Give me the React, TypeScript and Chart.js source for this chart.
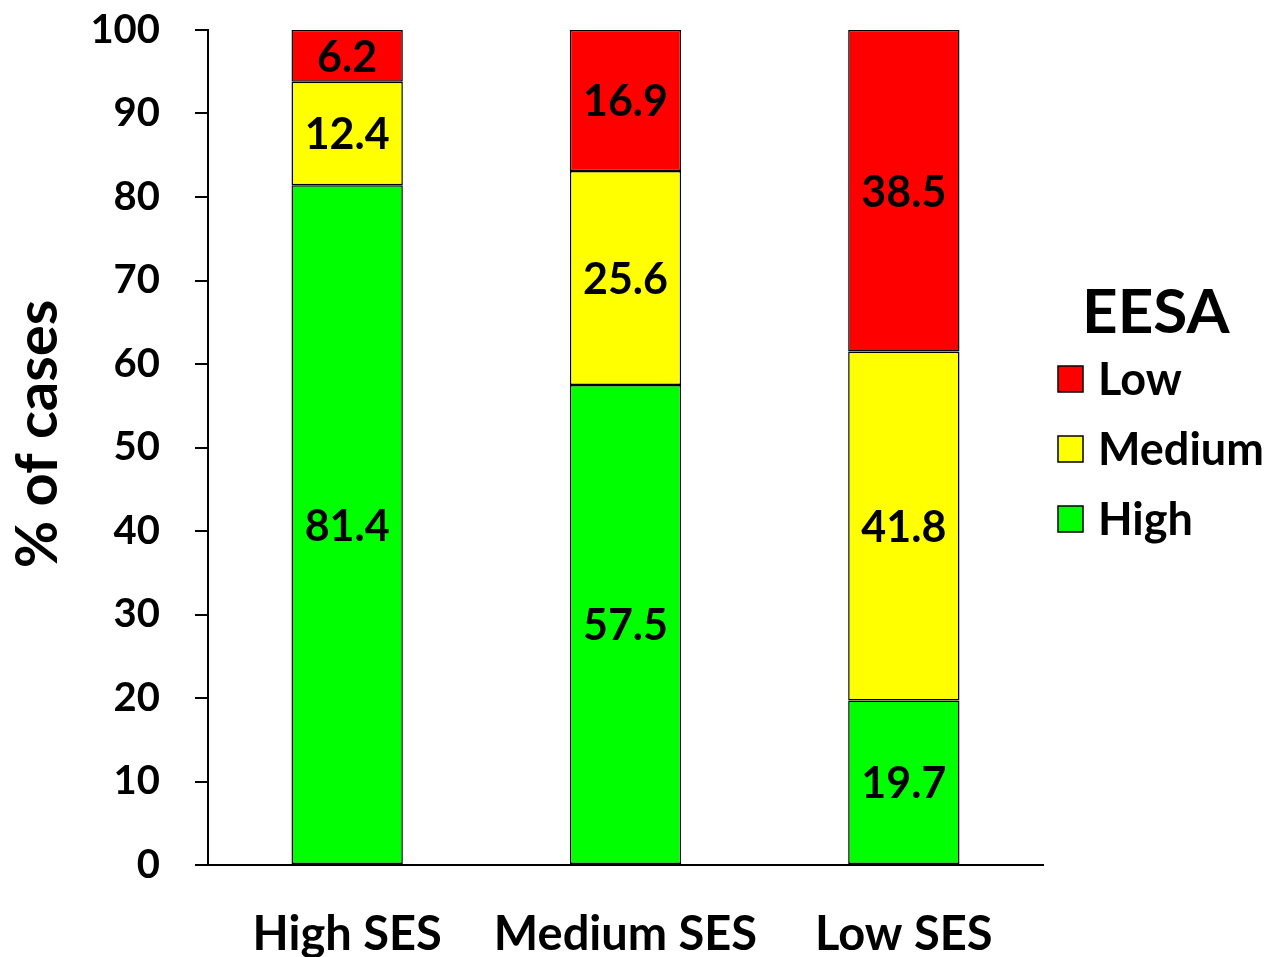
import React, { useEffect, useRef } from "react";
import { Chart, registerables } from "chart.js";

Chart.register(...registerables);

const categories = ["High SES", "Medium SES", "Low SES"];
const highEesa = [81.4, 57.5, 19.7];
const mediumEesa = [12.4, 25.6, 41.8];
const lowEesa = [6.2, 16.9, 38.5];
const yTicks = [0, 10, 20, 30, 40, 50, 60, 70, 80, 90, 100];

const FONT = "Lato, 'Open Sans', sans-serif";
const RED = "#ff0000";
const YELLOW = "#ffff00";
const GREEN = "#00ff00";

// Legend entries, listed top to bottom (reverse of stacking order)
const legendItems = [
  { label: "Low", color: RED },
  { label: "Medium", color: YELLOW },
  { label: "High", color: GREEN },
];

const barLabelsPlugin = {
  id: "barLabels",
  afterDatasetsDraw(chart: any) {
    const ctx = chart.ctx;
    ctx.save();
    ctx.fillStyle = "#000";
    ctx.font = `bold 43px ${FONT}`;
    ctx.textAlign = "center";
    ctx.textBaseline = "middle";
    chart.data.datasets.forEach((ds: any, di: number) => {
      const meta = chart.getDatasetMeta(di);
      meta.data.forEach((bar: any, i: number) => {
        const v = ds.data[i];
        const yMid = (bar.y + bar.base) / 2;
        ctx.fillText(v.toFixed(1), bar.x, yMid + 2);
      });
    });
    ctx.restore();
  },
};

const decorPlugin = {
  id: "decor",
  afterDraw(chart: any) {
    const ctx = chart.ctx;
    ctx.save();
    // y-axis title
    ctx.fillStyle = "#000";
    ctx.font = `bold 58px ${FONT}`;
    ctx.textAlign = "center";
    ctx.textBaseline = "middle";
    ctx.translate(38, 434);
    ctx.rotate(-Math.PI / 2);
    ctx.fillText("% of cases", 0, 0);
    ctx.restore();

    // legend
    ctx.save();
    ctx.fillStyle = "#000";
    ctx.font = `bold 62px ${FONT}`;
    ctx.textAlign = "left";
    ctx.textBaseline = "alphabetic";
    ctx.fillText("EESA", 1082, 333);
    ctx.font = `bold 45px ${FONT}`;
    ctx.textBaseline = "middle";
    legendItems.forEach((item, i) => {
      const cy = 379 + i * 70;
      ctx.fillStyle = item.color;
      ctx.fillRect(1058, cy - 13, 25, 26);
      ctx.strokeStyle = "#000";
      ctx.lineWidth = 1.5;
      ctx.strokeRect(1058, cy - 13, 25, 26);
      ctx.fillStyle = "#000";
      ctx.fillText(item.label, 1098, cy + 1);
    });
    ctx.restore();
  },
};

export default function App() {
  const canvasRef = useRef<HTMLCanvasElement | null>(null);

  useEffect(() => {
    if (!canvasRef.current) return;
    const mk = (label: string, data: number[], color: string) => ({
      label,
      data,
      backgroundColor: color,
      borderColor: "#000",
      borderWidth: 1.5,
      borderSkipped: false,
      barPercentage: 0.4,
      categoryPercentage: 1,
    });
    const chart = new Chart(canvasRef.current, {
      type: "bar",
      data: {
        labels: categories,
        datasets: [
          mk("High", highEesa, GREEN),
          mk("Medium", mediumEesa, YELLOW),
          mk("Low", lowEesa, RED),
        ],
      },
      options: {
        responsive: false,
        animation: false,
        layout: { padding: { top: 30, right: 226, left: 0, bottom: 0 } },
        plugins: {
          legend: { display: false },
          tooltip: { enabled: false },
        },
        scales: {
          x: {
            stacked: true,
            grid: { display: false },
            border: { display: true, color: "#000", width: 2 },
            ticks: {
              color: "#000",
              font: { family: FONT, weight: "bold", size: 47 },
              padding: 34,
              maxRotation: 0,
            },
            afterFit: (scale: any) => {
              scale.height = 92;
              scale.paddingLeft = 0;
              scale.paddingRight = 0;
            },
          },
          y: {
            stacked: true,
            min: 0,
            max: 100,
            afterBuildTicks: (scale: any) => {
              scale.ticks = yTicks.map((v) => ({ value: v }));
            },
            grid: {
              display: true,
              drawOnChartArea: false,
              drawTicks: true,
              tickLength: 13,
              color: "#000",
              lineWidth: 2,
            },
            border: { display: true, color: "#000", width: 2 },
            ticks: {
              color: "#000",
              font: { family: FONT, weight: "bold", size: 40 },
              padding: 35,
            },
            afterFit: (scale: any) => {
              scale.width = 208;
              scale.paddingTop = 0;
              scale.paddingBottom = 0;
            },
          },
        },
      },
      plugins: [barLabelsPlugin, decorPlugin],
    });
    return () => chart.destroy();
  }, []);

  return (
    <div style={{ position: "absolute", left: 0, top: 0, width: 1269, height: 957, background: "#fff" }}>
      <canvas ref={canvasRef} width={1269} height={957} />
    </div>
  );
}
